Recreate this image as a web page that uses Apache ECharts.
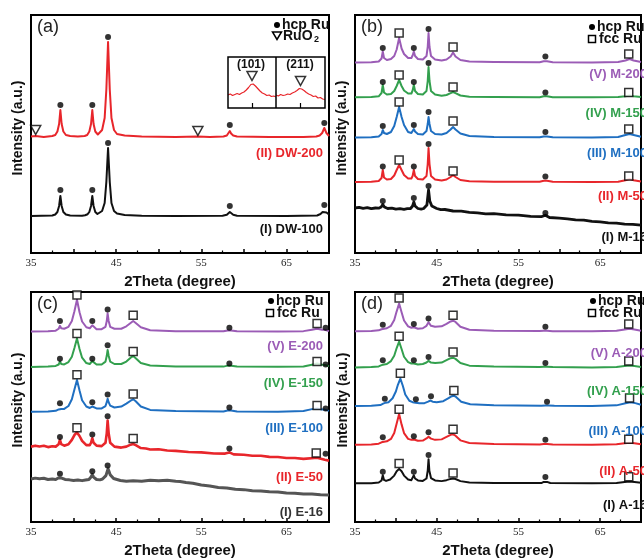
<!DOCTYPE html>
<html><head><meta charset="utf-8">
<script src="https://cdn.jsdelivr.net/npm/echarts@6/dist/echarts.min.js"></script>
<style>html,body{margin:0;padding:0;background:#fff}#c{width:644px;height:559px}</style>
</head><body><div id="c"></div><script>
// ---------- data (2theta in degree, intensity in arbitrary units incl. stacking offset) ----------
const DW200 = [[35,116.5],[35.55,117],[36.5,116],[37.5,117],[37.85,118],[38.1,121.5],[38.3,129],[38.45,143],[38.6,129],[38.8,121.5],[39.1,118],[39.6,117],[40.5,116.5],[41.3,117],[41.6,118],[41.85,121.5],[42.05,129],[42.2,143],[42.35,129],[42.55,121.5],[42.85,118.5],[43.0,118.5],[43.35,123],[43.65,135],[43.85,163.5],[44.05,211],[44.25,163.5],[44.45,135],[44.75,123],[45.1,119],[46,117.5],[48,116.5],[52,116],[54.6,116.5],[56,116],[57.6,116.5],[58.0,117.5],[58.2,119.5],[58.35,122],[58.5,119.5],[58.75,117.5],[59.2,116.5],[63,116],[67,116],[68.5,116.5],[68.9,117.5],[69.2,120],[69.45,125],[69.7,120],[70,117]];
const DW100 = [[35,37],[37.5,37.5],[37.85,38.5],[38.1,41],[38.3,47],[38.45,57],[38.6,47],[38.8,41],[39.1,38.5],[39.6,37.5],[41,37.3],[41.35,37.8],[41.65,38.8],[41.85,41],[42.05,47],[42.2,57],[42.35,47],[42.55,41],[42.8,39],[43.0,39],[43.35,42],[43.65,50],[43.85,71],[44.05,105],[44.25,71],[44.45,50],[44.75,42],[45.1,39.5],[46,38],[48,37.3],[52,37],[57.5,37.3],[58.0,38.3],[58.2,39.8],[58.35,41],[58.5,39.8],[58.75,38.3],[59.2,37.3],[65,37],[68.6,37.5],[69.0,39],[69.25,41],[69.45,43],[69.7,40.5],[70,38.5]];
const RuO2_101 = [[34.0,13],[34.1,14],[34.2,12.5],[34.3,13.5],[34.4,14.5],[34.5,13.5],[34.6,15],[34.7,16],[34.8,18],[34.9,20.5],[35.0,23.5],[35.05,25],[35.1,24],[35.2,22],[35.3,19.5],[35.4,17],[35.5,15],[35.6,14],[35.7,12.5],[35.8,13],[35.9,11.5],[36.0,12],[36.1,11]];
const RuO2_211 = [[53.2,13],[53.3,12],[53.4,13.5],[53.5,12.5],[53.6,13],[53.7,14],[53.8,13.5],[53.9,15],[54.0,16],[54.1,17.5],[54.2,19.5],[54.25,20],[54.3,19],[54.4,17.5],[54.5,15.5],[54.6,14],[54.7,13],[54.8,11.5],[54.9,12],[55.0,10],[55.1,10.5],[55.2,9],[55.3,8.5]];

const M200 = [[35,190.5],[37,190.8],[37.9,191.5],[38.25,194.5],[38.4,201.5],[38.55,195],[38.9,193],[39.4,194],[39.8,197],[40.1,203.5],[40.4,215],[40.7,204.5],[41.0,199],[41.5,195],[41.9,195],[42.05,197.5],[42.2,201.5],[42.35,197],[42.7,194],[43.3,193.5],[43.75,197],[43.9,206],[44.0,220],[44.12,206],[44.3,197],[44.8,193.5],[45.6,192.5],[46.2,193.5],[46.7,196.5],[47.0,200.5],[47.3,196.5],[47.9,193],[49,191.5],[52,191],[57.6,190.8],[58.1,191.8],[58.3,193],[58.5,191.8],[59.2,190.8],[64,190.5],[67.2,191],[68.1,192.5],[68.6,194],[69.1,192.5],[70,191]];
const M150 = [[35,155.7],[37,156],[37.9,156.7],[38.25,160],[38.4,168],[38.55,160.5],[38.9,158.5],[39.4,159],[39.8,162],[40.1,167],[40.4,173],[40.7,167],[41.0,162.5],[41.5,159.5],[41.9,159.5],[42.05,162.5],[42.2,168],[42.35,162],[42.7,159],[43.3,158.5],[43.75,162],[43.9,172],[44.0,186],[44.12,172],[44.3,162],[44.8,158.5],[45.6,157.3],[46.2,158],[46.7,159.8],[47.0,161],[47.3,159.8],[47.9,157.5],[49,156.3],[52,156],[57.6,155.8],[58.1,156.8],[58.3,158],[58.5,156.8],[59.2,155.8],[64,155.7],[67.2,156],[68.1,156.8],[68.6,157.5],[69.1,156.8],[70,156]];
const M100 = [[35,115.5],[37,115.8],[37.9,116.5],[38.25,119],[38.4,123],[38.55,120],[38.9,119],[39.4,121],[39.8,127],[40.1,136],[40.4,146],[40.7,136],[41.0,128],[41.5,121],[41.9,120],[42.05,121.5],[42.2,124],[42.35,121.5],[42.7,119],[43.3,118.5],[43.75,122],[43.9,129],[44.0,136],[44.12,129],[44.3,122],[44.8,119],[45.6,118.5],[46.2,120],[46.7,123.5],[47.0,126],[47.3,123.5],[47.9,119.5],[49,117],[52,116],[57.6,115.7],[58.1,116.6],[58.3,117.5],[58.5,116.6],[59.2,115.7],[64,115.5],[67.2,116],[68.1,118],[68.6,119],[69.1,118],[70,116.3]];
const M50 = [[35,71],[37,71.3],[37.9,72],[38.25,75],[38.4,83],[38.55,75.5],[38.9,73.5],[39.4,74],[39.8,77.5],[40.1,83],[40.4,88],[40.7,83],[41.0,78],[41.5,74.5],[41.9,74.5],[42.05,77],[42.2,83],[42.35,77],[42.7,74],[43.3,73.5],[43.75,77],[43.9,89],[44.0,105],[44.12,89],[44.3,77],[44.8,73.5],[45.6,72.5],[46.2,73.5],[46.7,76],[47.0,78],[47.3,76],[47.9,73],[49,71.8],[52,71.3],[57.6,71.2],[58.1,72.3],[58.3,73.5],[58.5,72.3],[59.2,71.2],[64,71],[67.2,71.3],[68.1,72.8],[68.6,74],[69.1,72.8],[70,71.5]];
const M16 = [[35,45],[35.5,45.6],[36,44.6],[36.5,45.3],[37,44.3],[37.5,45],[37.9,44.8],[38.2,46],[38.4,48.5],[38.6,46],[39,44.5],[39.5,44.9],[40,43.8],[40.5,44.4],[41,43.6],[41.4,44.3],[41.8,44.5],[42.05,47],[42.2,51],[42.35,47],[42.7,44.5],[43.1,43.8],[43.4,44.5],[43.8,48],[44.0,63],[44.15,52],[44.4,47],[45,44.5],[45.5,43.3],[46,43.5],[47,42],[48,41.8],[49,40.6],[50,40.2],[51,39.2],[52,39.3],[53.5,38.2],[55,37.8],[56.5,36.6],[57.8,36.3],[58.3,37.8],[58.8,35.5],[60,34.8],[61,34.2],[62,33.2],[63,32.8],[64,31.6],[65,31.2],[66,30.2],[67,29.8],[68,28.8],[69,28.6],[70,27.8]];

const E200 = [[35,197],[37,197.3],[37.9,198],[38.25,200],[38.4,203],[38.55,200.5],[38.9,200],[39.4,202],[39.8,208],[40.1,218],[40.4,230],[40.7,217],[41.0,207.5],[41.5,201.5],[41.9,200.5],[42.05,201.5],[42.2,203.5],[42.35,201.5],[42.7,199.5],[43.3,199.5],[43.75,202],[43.9,208],[44.0,216],[44.12,208],[44.3,202],[44.8,200],[45.6,200],[46.2,202.5],[46.7,206],[47.0,208],[47.3,206],[47.9,201.5],[49,198.5],[52,197.5],[57.6,197.3],[58.1,198.2],[58.3,199],[58.5,198.2],[59.2,197.3],[64,197],[67,197.5],[68.0,199],[68.6,200],[69.2,199],[69.5,199],[70,197.5]];
const E150 = [[35,160.5],[37,160.8],[37.9,161.5],[38.25,163],[38.4,166],[38.55,163.5],[38.9,163],[39.4,165.5],[39.8,171],[40.1,180],[40.4,190],[40.7,179],[41.0,170],[41.5,164.5],[41.9,163.5],[42.05,164.5],[42.2,166.5],[42.35,164.5],[42.7,163],[43.3,163],[43.75,166],[43.9,172],[44.0,178],[44.12,172],[44.3,166],[44.8,163.5],[45.6,163.5],[46.2,166],[46.7,170],[47.0,171.7],[47.3,169.5],[47.9,164.5],[49,162],[52,161],[57.6,160.8],[58.1,161.8],[58.3,162.5],[58.5,161.8],[59.2,160.8],[64,160.6],[67,161],[68.0,162.8],[68.6,164],[69.2,162.8],[69.5,162.5],[70,161.5]];
const E100 = [[35,114],[37,114.3],[37.9,115],[38.25,116.5],[38.4,118.5],[38.55,117],[38.9,117],[39.4,120],[39.8,127],[40.1,137],[40.4,147],[40.7,136],[41.0,126],[41.5,119.5],[41.9,118],[42.05,118.5],[42.2,119.5],[42.35,118.5],[42.7,117.5],[43.3,117.5],[43.75,120],[43.9,124],[44.0,127.5],[44.12,124],[44.3,120.5],[44.8,118.5],[45.6,119.5],[46.2,122.5],[46.7,125.5],[47.0,127],[47.3,125],[47.9,119.5],[49,116],[52,114.8],[57.6,114.3],[58.1,115.3],[58.3,116],[58.5,115.3],[59.2,114.3],[64,114],[67,114.8],[68.0,116.8],[68.6,117.5],[69.2,116.5],[69.5,116.3],[70,115]];
const E50 = [[35,78],[35.5,79],[36,78.2],[36.5,78.9],[37,77.5],[37.5,78.4],[37.9,78],[38.25,80.5],[38.4,85],[38.55,80.5],[38.9,79],[39.4,80.5],[39.8,85],[40.1,90],[40.4,92.7],[40.7,89],[41.0,84],[41.5,79.5],[41.9,79.5],[42.05,82],[42.2,86.7],[42.35,82],[42.7,79],[43.3,78.5],[43.75,82],[43.9,92],[44.0,105],[44.12,92],[44.3,82],[44.8,78],[45.6,77],[46.2,78],[46.7,80],[47.0,80.7],[47.3,79.5],[47.9,76.5],[48.5,76],[49,75],[50,75.3],[51,74],[52,73.6],[53.5,72.4],[55,72],[56.5,70.9],[57.8,70.8],[58.3,72],[58.8,70],[60,69.6],[61,68.6],[62,68.5],[63,67.4],[64,67.3],[65,66.2],[66,66.2],[67,65.3],[68.6,66.5],[69.5,64.5],[70,63.5]];
const E16 = [[35,44.5],[35.5,45.4],[36,44.8],[36.5,45.2],[37,44],[37.5,44.6],[37.9,44],[38.2,45.5],[38.4,47],[38.6,45.5],[39,44],[39.5,43.6],[40,43],[40.5,43.5],[41,42.8],[41.4,43.4],[41.8,44],[42.05,46.5],[42.2,49],[42.35,46.5],[42.7,44],[43.1,43.6],[43.4,44.5],[43.8,48],[44.05,55],[44.3,49],[44.7,45],[45.5,43],[46.2,42.2],[47,42.7],[48,42.2],[49,43.2],[50,42.6],[51,43.2],[52,42.2],[52.5,42],[53.2,40.8],[54,40],[55,38.2],[56,37.2],[57,35.6],[58,35.2],[59,33.8],[60,33.5],[61,32.4],[62,32],[63,31.2],[64,31],[65,30],[66,29.8],[67,29],[68,29],[69,28.2],[70,28]];

const A200 = [[35,197.3],[37,197.6],[37.9,198.3],[38.25,199.5],[38.4,200.7],[38.55,200],[38.9,200.5],[39.4,203],[39.8,209],[40.1,218],[40.4,226],[40.7,217],[41.0,208.5],[41.5,202.5],[41.9,201],[42.05,201],[42.2,201.5],[42.35,201],[42.7,200],[43.3,200.5],[43.75,203],[43.9,205],[44.0,206.7],[44.12,205],[44.3,203],[44.8,202],[45.6,202.5],[46.2,205],[46.7,207.5],[47.0,208.3],[47.3,207],[47.9,202],[49,199],[52,198],[57.6,197.6],[58.1,197.9],[58.3,198.2],[58.5,197.9],[59.2,197.5],[64,197.3],[67,197.8],[68.0,199.3],[68.6,200],[69.2,199.3],[70,198]];
const A150 = [[35,160],[37,160.3],[37.9,161],[38.25,162.3],[38.4,163.5],[38.55,163],[38.9,163.5],[39.4,166.5],[39.8,172],[40.1,180],[40.4,186.7],[40.7,179],[41.0,171],[41.5,165.5],[41.9,164],[42.05,163.8],[42.2,164],[42.35,163.5],[42.7,163],[43.3,163.5],[43.75,165],[43.9,166],[44.0,166.7],[44.12,166],[44.3,165],[44.8,164.5],[45.6,165],[46.2,167.5],[46.7,169.5],[47.0,170],[47.3,168.8],[47.9,164.5],[49,161.8],[52,160.8],[57.6,160.3],[58.1,160.6],[58.3,160.8],[58.5,160.6],[59.2,160.3],[64,160],[67,160.5],[68.0,161.5],[68.6,162],[69.2,161.5],[70,160.5]];
const A100 = [[35,120],[37,120.3],[38.1,121],[38.45,122.5],[38.6,124],[38.75,123.5],[39.1,124],[39.6,128],[40.0,135],[40.25,142],[40.55,148.3],[40.85,141],[41.15,132],[41.65,125.5],[42.05,124],[42.25,123.5],[42.4,123.5],[42.55,123.3],[42.9,122.8],[43.5,123],[43.95,124.5],[44.1,125.3],[44.2,125.7],[44.32,125.3],[44.5,124.5],[45,124],[45.8,125],[46.4,128],[46.85,130.2],[47.1,130.7],[47.4,129.2],[48,124.5],[49.1,121.8],[52,120.8],[57.8,120.3],[58.3,120.6],[58.5,120.8],[58.7,120.6],[59.4,120.3],[64,120],[67,120.7],[68.1,122.8],[68.7,124],[69.3,123],[70,121.3]];
const A50 = [[35,80],[37,80.3],[37.9,81],[38.25,82.5],[38.4,84],[38.55,83],[38.9,83.5],[39.4,86],[39.8,92],[40.1,102],[40.4,111.7],[40.7,101],[41.0,92],[41.5,86],[41.9,85],[42.05,85],[42.2,85.3],[42.35,85],[42.7,84],[43.3,84.3],[43.75,86.5],[43.9,87.7],[44.0,88.3],[44.12,87.7],[44.3,86.3],[44.8,85],[45.6,85.5],[46.2,88],[46.7,90.2],[47.0,90.7],[47.3,89.3],[47.9,84.5],[49,81.8],[52,80.8],[57.6,80.3],[58.1,80.8],[58.3,81.3],[58.5,80.8],[59.2,80.3],[64,80],[67,80.5],[68.0,81.5],[68.6,82],[69.2,81.5],[70,80.5]];
const A16 = [[35,40],[37,40.2],[37.9,40.8],[38.25,43],[38.4,48.3],[38.55,43.5],[38.8,42.5],[39.3,44],[39.8,48],[40.1,52.5],[40.4,55],[40.7,52.5],[41.0,48],[41.5,44],[41.9,43.3],[42.05,45],[42.2,48.3],[42.35,45],[42.7,43],[43.3,42.5],[43.75,45],[43.9,53],[44.0,65],[44.1,53],[44.3,45.5],[44.8,43],[45.6,42.3],[46.2,43.3],[46.7,44.6],[47.0,45],[47.3,44.5],[47.9,42.3],[49,40.8],[52,40.3],[57.8,40.3],[58.1,41.5],[58.3,43],[58.5,41.5],[58.9,40.3],[64,40],[67,40.4],[68.0,41.4],[68.6,42],[69.2,41.4],[70,40.5]];

// peak markers
const hcpA = [[38.45,148],[42.2,148],[44.05,216],[58.35,128],[69.45,130],[38.45,63],[42.2,63],[44.05,110],[58.35,47],[69.45,48]];
const ruo2A = [[35.55,123],[54.6,122]];
const ruo2Inset101 = [[35.05,32]];
const ruo2Inset211 = [[54.25,27]];
const hcpB = [[38.4,205],[42.2,205],[44.0,224],[58.3,196.5],[38.4,171],[42.2,171],[44.0,190],[58.3,160.5],[38.4,127],[42.2,128],[44.0,141],[58.3,121],[38.4,86.5],[42.2,86.5],[44.0,109],[58.3,76.5],[38.4,52],[42.2,55],[44.0,67],[58.3,40]];
const fccB = [[40.4,220],[47.0,206],[68.5,199],[40.4,178],[47.0,166],[68.5,160.5],[40.4,151],[47.0,132],[68.5,124],[40.4,93],[47.0,82],[68.5,77]];
const hcpC = [[38.4,208],[42.2,208],[44.0,220],[58.3,201],[69.6,201],[38.4,169],[42.2,169],[44.0,183],[58.3,164],[69.6,163],[38.4,123],[42.2,124],[44.0,132],[58.3,118.5],[69.6,117.5],[38.4,88],[42.2,90.5],[44.0,109.5],[58.3,76],[69.6,70.5],[38.4,50],[42.2,52.5],[44.0,58.5]];
const fccC = [[40.4,235],[47.0,214],[68.6,205.5],[40.4,195],[47.0,176.5],[68.6,166],[40.4,152.5],[47.0,132.5],[68.6,120.5],[40.4,97.5],[47.0,86.5],[68.5,71.5]];
const hcpD = [[38.4,204],[42.2,205],[44.0,210.7],[58.3,202],[38.4,167.3],[42.2,167.3],[44.0,170.7],[58.3,164.5],[38.65,127.5],[42.45,127],[44.3,130],[58.5,124.5],[38.4,87.8],[42.2,88.8],[44.0,93],[58.3,85],[38.4,52],[42.2,52],[44.0,69.3],[58.3,46.5]];
const fccD = [[40.4,231.7],[47.0,214],[68.5,205],[40.4,192.3],[47.0,176],[68.5,166.7],[40.55,154],[47.1,136],[68.6,128.3],[40.4,116.7],[47.0,96],[68.5,85.5],[40.4,60.5],[47.0,50.7],[68.5,46.7]];

// text labels
const panelLetters = ['(a)','(b)','(c)','(d)'];
const namesA = ['(II) DW-200','(I) DW-100'];
const namesB = ['(V) M-200','(IV) M-150','(III) M-100','(II) M-50','(I) M-16'];
const namesC = ['(V) E-200','(IV) E-150','(III) E-100','(II) E-50','(I) E-16'];
const namesD = ['(V) A-200','(IV) A-150','(III) A-100','(II) A-50','(I) A-16'];
const insetLabels = ['(101)','(211)'];
const xTitle = '2Theta (degree)';
const yTitle = 'Intensity (a.u.)';

// ---------- styling / layout ----------
const RED='#e8262b', PUR='#9b5cb6', GRN='#33a04e', BLU='#1f6fc1', BLK='#111111', GRY='#555555';
const SANS='"Liberation Sans", Arial, sans-serif';
const grids = [
  {left:31, top:15, width:298, height:238},
  {left:355, top:15, width:297.5, height:238},
  {left:31, top:292, width:298, height:238},
  {left:355, top:292, width:297.5, height:238},
  {left:228, top:57, width:48, height:51},
  {left:276, top:57, width:49, height:51}
];
const gridOpts = grids.map((g,i)=>Object.assign({
  show: i<4, borderColor:'#000', borderWidth: 2, containLabel:false
}, g));

const xAxes = [0,1,2,3].map(i=>({
  type:'value', gridIndex:i, min:35, max:70, interval:5,
  axisLine:{show:false},
  axisTick:{show:true, inside:true, length:4, lineStyle:{color:'#000', width:1.5}},
  minorTick:{show:true, splitNumber:2, length:2.5, lineStyle:{color:'#000', width:1.2}},
  splitLine:{show:false}, minorSplitLine:{show:false},
  axisLabel:{show:true, margin:5, fontFamily:'"Liberation Serif", serif', fontSize:11, color:'#222',
    formatter:v=>((v-35)%10===0 && v<70)?String(v):''},
  name:xTitle, nameLocation:'middle', nameGap:21,
  nameTextStyle:{fontFamily:SANS, fontWeight:'bold', fontSize:15, color:'#111'}
}));
xAxes.push({type:'value', gridIndex:4, min:34, max:36.1, axisLine:{show:false}, splitLine:{show:false}, axisLabel:{show:false},
  axisTick:{show:true, inside:true, length:5, customValues:[35.05], lineStyle:{color:'#000', width:1.2}}});
xAxes.push({type:'value', gridIndex:5, min:53.2, max:55.3, axisLine:{show:false}, splitLine:{show:false}, axisLabel:{show:false},
  axisTick:{show:true, inside:true, length:5, customValues:[54.25], lineStyle:{color:'#000', width:1.2}}});
const yAxes = [0,1,2,3].map(i=>({type:'value', gridIndex:i, min:0, max:238, show:false}));
yAxes.push({type:'value', gridIndex:4, min:0, max:51, show:false});
yAxes.push({type:'value', gridIndex:5, min:0, max:51, show:false});

function line(gi, data, color, w){
  return {type:'line', xAxisIndex:gi, yAxisIndex:gi, data, symbol:'none', smooth:false,
    lineStyle:{color, width:w||2, join:'round'}, z:2, silent:true, animation:false};
}
function dots(gi, data){
  return {type:'scatter', xAxisIndex:gi, yAxisIndex:gi, data, symbol:'circle', symbolSize:6,
    itemStyle:{color:'#000'}, z:5, silent:true, animation:false};
}
function squares(gi, data){
  return {type:'scatter', xAxisIndex:gi, yAxisIndex:gi, data, symbol:'rect', symbolSize:8,
    itemStyle:{color:'#fff', borderColor:'#000', borderWidth:1.5}, z:5, silent:true, animation:false};
}
function tris(gi, data){
  return {type:'scatter', xAxisIndex:gi, yAxisIndex:gi, data, symbol:'triangle', symbolRotate:180, symbolSize:[10,9],
    itemStyle:{color:'#fff', borderColor:'#000', borderWidth:1.5}, z:5, silent:true, animation:false};
}

const series = [
  line(0, DW200, RED), line(0, DW100, BLK),
  line(1, M200, PUR), line(1, M150, GRN), line(1, M100, BLU), line(1, M50, RED), line(1, M16, BLK, 2.8),
  line(2, E200, PUR), line(2, E150, GRN), line(2, E100, BLU), line(2, E50, RED, 2.6), line(2, E16, GRY, 3),
  line(3, A200, PUR), line(3, A150, GRN), line(3, A100, BLU), line(3, A50, RED), line(3, A16, BLK),
  line(4, RuO2_101, RED, 1.2), line(5, RuO2_211, RED, 1.2),
  dots(0, hcpA), tris(0, ruo2A), tris(4, ruo2Inset101), tris(5, ruo2Inset211),
  dots(1, hcpB), squares(1, fccB),
  dots(2, hcpC), squares(2, fccC),
  dots(3, hcpD), squares(3, fccD)
];

// graphic texts
const G = [];
function txt(x, y, text, font, fill, align, extra){
  G.push(Object.assign({type:'text', x, y, z:20, silent:true,
    style:{text, font, fill, align:align||'left', verticalAlign:'middle'}}, extra||{}));
}
const letterPos = [[37,27],[361,27],[37,304],[361,304]];
panelLetters.forEach((t,i)=>txt(letterPos[i][0], letterPos[i][1], t, '18px '+SANS, '#222'));
// y-axis titles
[[18,128],[342,128],[18,400],[343,400]].forEach(p=>txt(p[0],p[1],yTitle,'bold 14px '+SANS,'#111','center',{rotation:Math.PI/2}));
// sample labels
const LF = 'bold 13px '+SANS;
const colsBig = [PUR,GRN,BLU,RED,BLK];
[153,229].forEach((y,i)=>txt(323,y,namesA[i],LF,[RED,BLK][i],'right'));
[74,113,153,196,237].forEach((y,i)=>txt(647,y,namesB[i],LF,colsBig[i],'right'));
[346,383,428,477,512].forEach((y,i)=>txt(323,y,namesC[i],LF,[PUR,GRN,BLU,RED,'#333'][i],'right'));
[353,391,431,471,505].forEach((y,i)=>txt(647,y,namesD[i],LF,colsBig[i],'right'));
// legends
const LG = 'bold 14px '+SANS;
function dotL(x,y){G.push({type:'circle', z:20, silent:true, shape:{cx:x,cy:y,r:3}, style:{fill:'#000'}});}
function sqL(x,y){G.push({type:'rect', z:20, silent:true, shape:{x:x-3.5,y:y-3.5,width:7,height:7}, style:{fill:'#fff',stroke:'#000',lineWidth:1.5}});}
dotL(277,25); txt(282,25,'hcp Ru',LG,'#111');
G.push({type:'polygon', z:20, silent:true, shape:{points:[[272.5,32],[281.5,32],[277,39.5]]}, style:{fill:'#fff',stroke:'#000',lineWidth:1.5}});
txt(283,36,'RuO',LG,'#111'); txt(314,40,'2','bold 9px '+SANS,'#111');
dotL(592,27); txt(597,27,'hcp Ru',LG,'#111'); sqL(592,39); txt(599,39,'fcc Ru',LG,'#111');
dotL(271,301); txt(276,301,'hcp Ru',LG,'#111'); sqL(270,313); txt(277,313,'fcc Ru',LG,'#111');
dotL(593,301); txt(598,301,'hcp Ru',LG,'#111'); sqL(592,313); txt(599,313,'fcc Ru',LG,'#111');
// inset frame
G.push({type:'rect', z:20, silent:true, shape:{x:228,y:57,width:97,height:51}, style:{fill:'none',stroke:'#000',lineWidth:1.5}});
G.push({type:'line', z:20, silent:true, shape:{x1:276,y1:57,x2:276,y2:108}, style:{stroke:'#000',lineWidth:1.5}});
txt(251,65,insetLabels[0],'bold 12px '+SANS,'#111','center');
txt(300,65,insetLabels[1],'bold 12px '+SANS,'#111','center');

const chart = echarts.init(document.getElementById('c'), null, {renderer:'canvas'});
chart.setOption({
  animation:false, backgroundColor:'#fff',
  grid:gridOpts, xAxis:xAxes, yAxis:yAxes, series, graphic:G
});
</script></body></html>
